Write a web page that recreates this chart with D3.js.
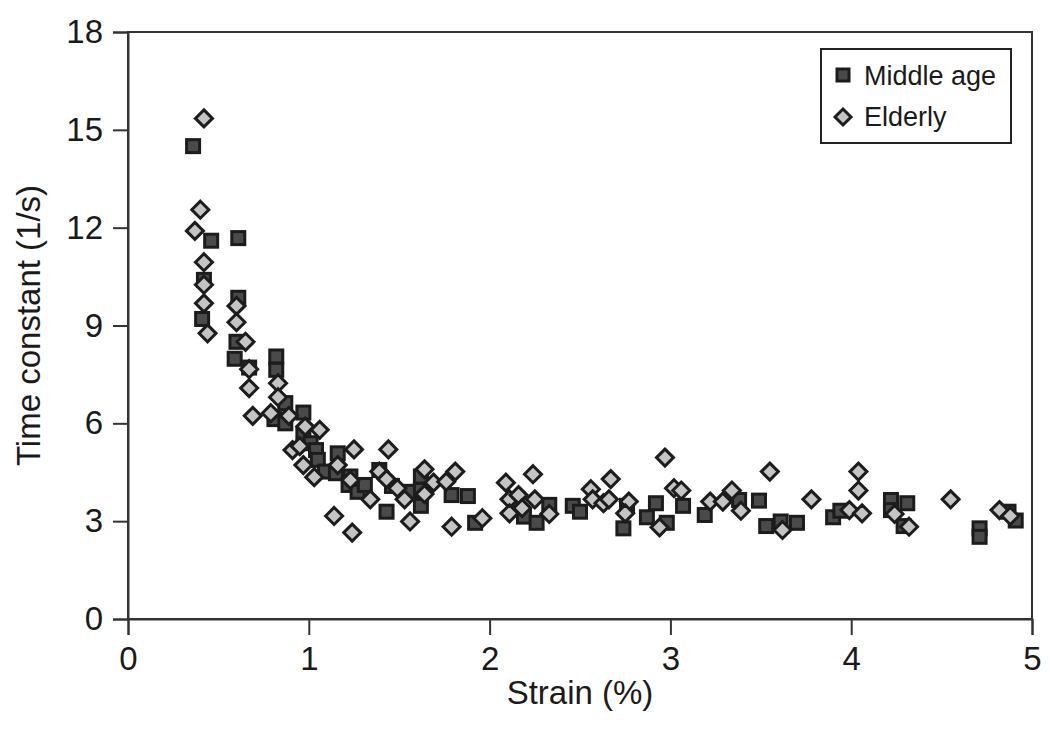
<!DOCTYPE html>
<html>
<head>
<meta charset="utf-8">
<script src="https://cdn.jsdelivr.net/npm/d3@7"></script>
<style>
  body { margin: 0; background: #fff; }
  svg text { font-family: "Liberation Sans", Arial, Helvetica, sans-serif; fill: #1a1a1a; }
</style>
</head>
<body>
<svg id="chart"></svg>
<script>
// Data
const seriesNames = ['Middle age', 'Elderly'];

const middleX = [0.36, 0.46, 0.61, 0.42, 0.41, 0.61, 0.60, 0.59, 0.67, 0.82, 0.82, 0.87, 0.81, 0.87,
  0.97, 0.97, 1.01, 1.04, 1.05, 1.16, 1.09, 1.15, 1.23, 1.22, 1.27, 1.31, 1.39, 1.46, 1.43, 1.56,
  1.62, 1.62, 1.62, 1.79, 1.88, 1.92, 2.15, 2.19, 2.33, 2.26, 2.46, 2.50, 2.76, 2.74, 2.92, 2.87,
  2.98, 3.07, 3.19, 3.38, 3.49, 3.53, 3.61, 3.70, 3.90, 3.94, 4.22, 4.31, 4.22, 4.29, 4.71, 4.71,
  4.87, 4.91];
const middleY = [14.5, 11.6, 11.68, 10.4, 9.2, 9.85, 8.5, 7.98, 7.71, 8.05, 7.64, 6.62, 6.13, 6.0,
  6.33, 5.64, 5.39, 5.18, 4.88, 5.08, 4.52, 4.47, 4.37, 4.11, 3.9, 4.11, 4.57, 4.08, 3.29, 3.9,
  3.96, 4.37, 3.47, 3.8, 3.77, 2.95, 3.44, 3.14, 3.5, 2.95, 3.47, 3.29, 3.47, 2.78, 3.55, 3.12,
  2.95, 3.47, 3.19, 3.65, 3.63, 2.85, 2.99, 2.95, 3.12, 3.32, 3.65, 3.55, 3.34, 2.85, 2.78, 2.52,
  3.29, 3.02];

const elderlyX = [0.42, 0.40, 0.37, 0.42, 0.42, 0.42, 0.44, 0.60, 0.60, 0.65, 0.67, 0.67, 0.83, 0.83,
  0.69, 0.79, 0.89, 0.98, 1.06, 0.91, 0.95, 1.25, 1.44, 1.16, 0.97, 1.39, 1.03, 1.23, 1.34, 1.43,
  1.49, 1.53, 1.64, 1.69, 1.64, 1.56, 1.14, 1.24, 1.76, 1.81, 1.79, 1.96, 2.09, 2.24, 2.11, 2.16,
  2.11, 2.18, 2.25, 2.33, 2.56, 2.57, 2.63, 2.67, 2.66, 2.77, 2.75, 2.94, 2.97, 3.02, 3.06, 3.22,
  3.29, 3.34, 3.39, 3.55, 3.62, 3.78, 3.99, 4.04, 4.04, 4.06, 4.24, 4.32, 4.55, 4.82, 4.88];
const elderlyY = [15.35, 12.55, 11.9, 10.94, 10.25, 9.68, 8.76, 9.6, 9.1, 8.5, 7.66, 7.08, 7.23, 6.8,
  6.23, 6.31, 6.23, 5.9, 5.8, 5.18, 5.3, 5.2, 5.2, 4.72, 4.72, 4.52, 4.35, 4.26, 3.67, 4.29,
  4.01, 3.67, 4.59, 4.18, 3.83, 2.99, 3.16, 2.65, 4.21, 4.52, 2.83, 3.09, 4.18, 4.44, 3.67, 3.8,
  3.24, 3.4, 3.67, 3.22, 3.98, 3.67, 3.55, 4.29, 3.67, 3.6, 3.24, 2.81, 4.95, 4.01, 3.94, 3.6,
  3.6, 3.94, 3.32, 4.52, 2.73, 3.67, 3.34, 4.52, 3.94, 3.24, 3.22, 2.83, 3.67, 3.34, 3.16];

const xTicks = [0, 1, 2, 3, 4, 5];
const yTicks = [0, 3, 6, 9, 12, 15, 18];

const W = 1050, H = 733;
const M = { left: 128, top: 32, right: 18, bottom: 114 };

const svg = d3.select('#chart').attr('width', W).attr('height', H);

const x = d3.scaleLinear().domain([0, 5]).range([M.left, W - M.right]);
const y = d3.scaleLinear().domain([0, 18]).range([H - M.bottom, M.top]);

const stroke = '#1c1c1c';

// Frame
svg.append('rect')
  .attr('x', x(0)).attr('y', y(18))
  .attr('width', x(5) - x(0)).attr('height', y(0) - y(18))
  .attr('fill', 'none').attr('stroke', '#333').attr('stroke-width', 2);

// Axes
const xAxis = svg.append('g')
  .attr('transform', `translate(0,${y(0)})`)
  .call(d3.axisBottom(x).tickValues(xTicks).tickSize(16).tickPadding(12).tickFormat(d3.format('d')));
const yAxis = svg.append('g')
  .attr('transform', `translate(${x(0)},0)`)
  .call(d3.axisLeft(y).tickValues(yTicks).tickSize(15).tickPadding(10).tickFormat(d3.format('d')));

[xAxis, yAxis].forEach(g => {
  g.select('.domain').attr('stroke', '#333').attr('stroke-width', 2);
  g.selectAll('.tick line').attr('stroke', '#333').attr('stroke-width', 2);
  g.selectAll('.tick text').attr('font-size', 33).attr('fill', '#1a1a1a')
    .attr('font-family', '"Liberation Sans", Arial, sans-serif');
});

// Axis titles
svg.append('text')
  .attr('x', (x(0) + x(5)) / 2).attr('y', 704)
  .attr('text-anchor', 'middle').attr('font-size', 33)
  .text('Strain (%)');
svg.append('text')
  .attr('transform', `translate(40,${(y(0) + y(18)) / 2}) rotate(-90)`)
  .attr('text-anchor', 'middle').attr('font-size', 33)
  .text('Time constant (1/s)');

// Markers
const squareSize = 13;
const diamondR = 8.5;

const middle = middleX.map((v, i) => ({ x: v, y: middleY[i] }));
const elderly = elderlyX.map((v, i) => ({ x: v, y: elderlyY[i] }));

function drawSquare(sel) {
  sel.attr('x', d => x(d.x) - squareSize / 2)
    .attr('y', d => y(d.y) - squareSize / 2)
    .attr('width', squareSize).attr('height', squareSize)
    .attr('fill', '#4a4a4a').attr('stroke', stroke).attr('stroke-width', 3);
}
function diamondPath(cx, cy) {
  return `M${cx},${cy - diamondR}L${cx + diamondR},${cy}L${cx},${cy + diamondR}L${cx - diamondR},${cy}Z`;
}

svg.append('g').selectAll('rect')
  .data(middle)
  .enter()
  .append('rect')
  .call(drawSquare);

svg.append('g').selectAll('path')
  .data(elderly)
  .enter()
  .append('path')
  .attr('d', d => diamondPath(x(d.x), y(d.y)))
  .attr('fill', '#c4c4c4').attr('stroke', stroke).attr('stroke-width', 3)
  .attr('stroke-linejoin', 'miter');

// Legend
const legend = svg.append('g');
legend.append('rect')
  .attr('x', 821).attr('y', 49).attr('width', 190).attr('height', 94)
  .attr('fill', '#fff').attr('stroke', '#222').attr('stroke-width', 2);

legend.append('rect')
  .attr('x', 843 - 6).attr('y', 75 - 6).attr('width', 12).attr('height', 12)
  .attr('fill', '#4a4a4a').attr('stroke', stroke).attr('stroke-width', 3);
legend.append('path')
  .attr('d', `M843,${117 - 8}L851,117L843,${117 + 8}L835,117Z`)
  .attr('fill', '#c4c4c4').attr('stroke', stroke).attr('stroke-width', 3);

legend.selectAll('text.leg')
  .data(seriesNames)
  .enter()
  .append('text')
  .attr('class', 'leg')
  .attr('x', 864)
  .attr('y', (d, i) => 76 + i * 41)
  .attr('dy', '0.35em')
  .attr('font-size', 27)
  .text(d => d);
</script>
</body>
</html>
